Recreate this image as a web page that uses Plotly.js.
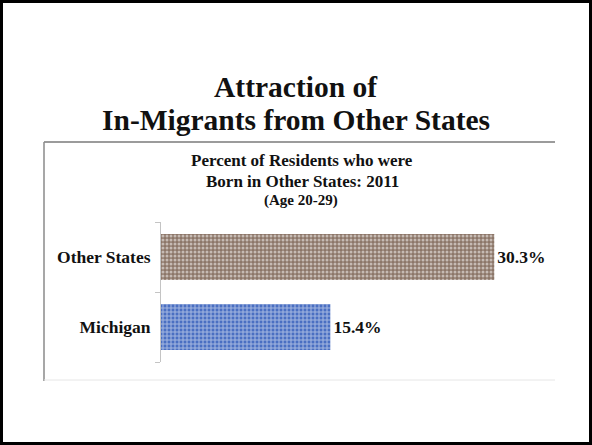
<!DOCTYPE html>
<html>
<head>
<meta charset="utf-8">
<script src="https://cdn.plot.ly/plotly-3.0.1.min.js"></script>
<style>html,body{margin:0;padding:0;background:#fff;}#chart{width:592px;height:445px;}</style>
</head>
<body>
<div id="chart"></div>
<script>
// Data
const categories = ['Michigan', 'Other States'];
const values = [15.4, 30.3];
const barColors = ['#4a6fc2', '#8c7668'];
const patternColors = ['#9ab2ea', '#c9b9ab'];
const patternShapes = ['+', '.'];
const titleLines = ['Attraction of', 'In-Migrants from Other States'];
const subtitleLines = ['Percent of Residents who were', 'Born in Other States: 2011', '(Age 20-29)'];

const W = 592, H = 445;
const px = x => x / W;
const py = y => 1 - y / H;
const serif = 'Liberation Serif, Times New Roman, serif';

const trace = {
  type: 'bar',
  orientation: 'h',
  y: categories,
  x: values,
  marker: {
    color: barColors,
    line: {width: 0},
    pattern: {shape: patternShapes, fgcolor: patternColors, bgcolor: barColors, size: 4, solidity: 0.45, fillmode: 'overlay'}
  },
  text: values.map(v => v.toFixed(1) + '%'),
  textposition: 'outside',
  cliponaxis: false,
  textfont: {family: serif, size: 17.5, color: '#111', weight: 'bold'},
  hoverinfo: 'none'
};

const annotations = [
  {text: '<b>' + titleLines[0] + '</b>', x: 0.5, y: py(87), size: 29.5},
  {text: '<b>' + titleLines[1] + '</b>', x: 0.5, y: py(120), size: 29.5},
  {text: '<b>' + subtitleLines[0] + '</b>', x: px(302), y: py(160.5), size: 17},
  {text: '<b>' + subtitleLines[1] + '</b>', x: px(302), y: py(181), size: 17},
  {text: '<b>' + subtitleLines[2] + '</b>', x: px(301), y: py(200.5), size: 15}
].map(a => ({
  text: a.text, x: a.x, y: a.y, xref: 'paper', yref: 'paper',
  xanchor: 'center', yanchor: 'middle', showarrow: false,
  font: {family: serif, size: a.size, color: '#111'}
}));

const shapes = [
  // outer slide frame
  {type: 'rect', xref: 'paper', yref: 'paper', x0: px(1.5), x1: px(590.5), y0: py(1.5), y1: py(443.5), line: {color: '#000', width: 3}},
  // chart picture border: top, left, bottom
  {type: 'line', xref: 'paper', yref: 'paper', x0: px(44), x1: px(555), y0: py(142), y1: py(142), line: {color: '#7a7a7a', width: 1.5}},
  {type: 'line', xref: 'paper', yref: 'paper', x0: px(44), x1: px(44), y0: py(142), y1: py(381), line: {color: '#8a8a8a', width: 1.5}},
  {type: 'line', xref: 'paper', yref: 'paper', x0: px(44), x1: px(555), y0: py(380), y1: py(380), line: {color: '#e6e6e6', width: 1}}
];

const layout = {
  width: W, height: H,
  margin: {l: 0, r: 0, t: 0, b: 0},
  paper_bgcolor: '#fff', plot_bgcolor: '#fff',
  showlegend: false,
  bargap: 0.34,
  xaxis: {domain: [px(161), px(546)], range: [0, 35], visible: false, fixedrange: true},
  yaxis: {
    domain: [py(362), py(222)],
    type: 'category',
    categoryorder: 'array', categoryarray: categories,
    showline: true, linecolor: '#c4c4c4', linewidth: 1,
    ticks: 'outside', ticklen: 5, tickcolor: '#c4c4c4', tickson: 'boundaries',
    ticklabelstandoff: 6,
    tickfont: {family: serif, size: 17.5, color: '#111', weight: 'bold'},
    showgrid: false, zeroline: false, fixedrange: true
  },
  annotations: annotations,
  shapes: shapes
};

Plotly.newPlot('chart', [trace], layout, {displayModeBar: false, staticPlot: true});
</script>
</body>
</html>
